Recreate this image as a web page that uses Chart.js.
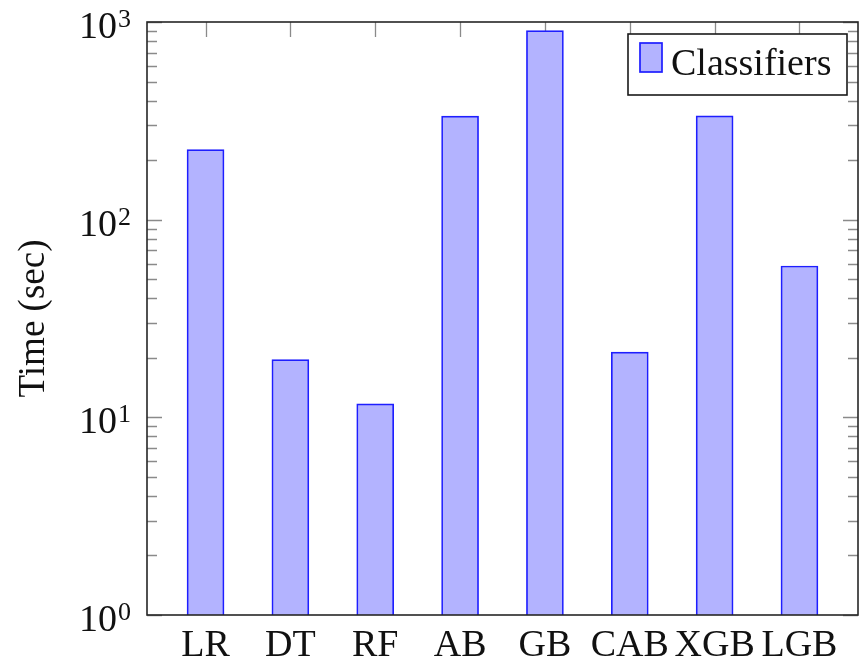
<!DOCTYPE html>
<html>
<head>
<meta charset="utf-8">
<script src="https://cdn.jsdelivr.net/npm/chart.js@4.4.1/dist/chart.umd.min.js"></script>
<style>
  html, body { margin: 0; padding: 0; background: #fff; }
  canvas { display: block; }
</style>
</head>
<body>
<canvas id="timeChart" width="865" height="658"></canvas>
<script>
// данные графика
const classifiers = ['LR', 'DT', 'RF', 'AB', 'GB', 'CAB', 'XGB', 'LGB'];
const timeSec = [226, 19.6, 11.7, 334, 905, 21.4, 335, 58.3];
const yMajorTicks = [1, 10, 100, 1000];
const legendLabel = 'Classifiers';

const serif = '"Liberation Serif", "DejaVu Serif", serif';
const fillColor = 'rgb(179,179,255)';
const edgeColor = 'rgb(30,30,255)';

// рамка, внутренние засечки, подписи 10^n и легенда в стиле pgfplots
const pgfStyle = {
    id: 'pgfStyle',
    beforeDatasetsDraw(chart) {
        const ctx = chart.ctx;
        const a = chart.chartArea;
        const ys = chart.scales.y;
        const xs = chart.scales.x;
        ctx.save();
        ctx.strokeStyle = '#8a8a8a';
        ctx.lineWidth = 1.3;
        ctx.beginPath();
        for (let d = 0; d < yMajorTicks.length; d++) {
            const base = yMajorTicks[d];
            for (let m = 1; m <= 9; m++) {
                const v = base * m;
                if (v > ys.max) break;
                const y = Math.round(ys.getPixelForValue(v)) + 0.5;
                const len = m === 1 ? 15 : 10;
                ctx.moveTo(a.left, y); ctx.lineTo(a.left + len, y);
                ctx.moveTo(a.right, y); ctx.lineTo(a.right - len, y);
            }
        }
        classifiers.forEach((c, i) => {
            const x = Math.round(xs.getPixelForValue(i)) + 0.5;
            ctx.moveTo(x, a.top); ctx.lineTo(x, a.top + 15);
            ctx.moveTo(x, a.bottom); ctx.lineTo(x, a.bottom - 15);
        });
        ctx.stroke();
        ctx.restore();
    },
    afterDatasetsDraw(chart) {
        const ctx = chart.ctx;
        const a = chart.chartArea;
        const ys = chart.scales.y;
        ctx.save();
        // рамка осей
        ctx.strokeStyle = '#262626';
        ctx.lineWidth = 1.6;
        ctx.strokeRect(a.left, a.top, a.right - a.left, a.bottom - a.top);

        // подписи оси Y: 10 с показателем степени
        ctx.fillStyle = '#111';
        ctx.textBaseline = 'alphabetic';
        yMajorTicks.forEach(v => {
            const y = ys.getPixelForValue(v);
            const exp = String(Math.round(Math.log10(v)));
            ctx.font = '26px ' + serif;
            ctx.textAlign = 'right';
            const expRight = a.left - 16;
            const expW = ctx.measureText(exp).width;
            ctx.fillText(exp, expRight, y + 5);
            ctx.font = '38px ' + serif;
            ctx.fillText('10', expRight - expW - 1, y + 16);
        });

        // легенда
        const bx = a.right - 230, by = a.top + 12, bw = 219, bh = 61;
        ctx.fillStyle = '#fff';
        ctx.fillRect(bx, by, bw, bh);
        ctx.strokeStyle = '#1a1a1a';
        ctx.lineWidth = 1.6;
        ctx.strokeRect(bx, by, bw, bh);
        ctx.fillStyle = fillColor;
        ctx.fillRect(bx + 12, by + 9, 22, 29);
        ctx.strokeStyle = edgeColor;
        ctx.lineWidth = 1.7;
        ctx.strokeRect(bx + 12, by + 9, 22, 29);
        ctx.fillStyle = '#111';
        ctx.font = '38px ' + serif;
        ctx.textAlign = 'left';
        ctx.fillText(legendLabel, bx + 43, by + 41);
        ctx.restore();
    }
};

function drawChart() {
    const ctx = document.getElementById('timeChart').getContext('2d');
    new Chart(ctx, {
        type: 'bar',
        data: {
            datasets: [{
                label: legendLabel,
                data: classifiers.map((c, i) => ({ x: i, y: timeSec[i] })),
                backgroundColor: fillColor,
                borderColor: edgeColor,
                borderWidth: 1.7,
                barThickness: 37,
                base: 1
            }]
        },
        options: {
            responsive: false,
            animation: false,
            devicePixelRatio: 1,
            layout: { padding: { left: 0, top: 22, right: 7, bottom: 0 } },
            plugins: {
                legend: { display: false },
                tooltip: { enabled: false }
            },
            scales: {
                x: {
                    type: 'linear',
                    offset: false,
                    min: -0.69,
                    max: 7.69,
                    grid: { display: false, offset: false },
                    border: { display: false },
                    afterBuildTicks: s => { s.ticks = classifiers.map((c, i) => ({ value: i })); },
                    afterFit: s => { s.height = 43; },
                    ticks: {
                        autoSkip: false,
                        maxRotation: 0,
                        padding: 0,
                        color: '#111',
                        font: { family: serif, size: 38 },
                        callback: v => classifiers[v]
                    }
                },
                y: {
                    type: 'logarithmic',
                    min: 1,
                    max: 1000,
                    grid: { display: false },
                    border: { display: false },
                    ticks: { display: false },
                    afterFit: s => { s.width = 147; },
                    title: {
                        display: true,
                        text: 'Time (sec)',
                        color: '#111',
                        font: { family: serif, size: 37 },
                        padding: { top: 12, bottom: 0 }
                    }
                }
            }
        },
        plugins: [pgfStyle]
    });
}

document.addEventListener('DOMContentLoaded', drawChart);
</script>
</body>
</html>
